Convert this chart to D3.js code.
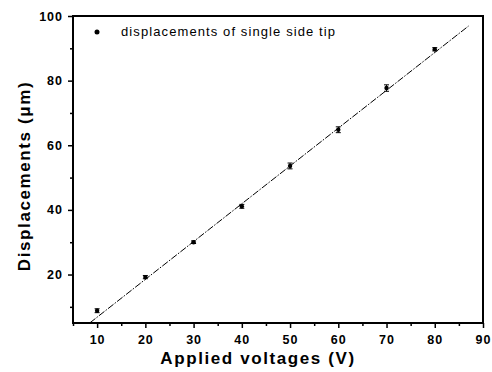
<!DOCTYPE html>
<html>
<meta charset="utf-8">
<head>
  <title>Displacements vs applied voltages</title>
</head>

<style>
body {
  margin: 0;
  background: #fff;
}
text {
  font-family: Arial, "Liberation Sans", Helvetica, sans-serif;
  fill: #000;
}
.tick text {
  font-size: 12.5px;
  font-weight: bold;
  letter-spacing: 1px;
}
.axis-title {
  font-size: 17px;
  font-weight: bold;
  text-anchor: middle;
  letter-spacing: 1.6px;
}
</style>

<body>
  <svg width="492" height="372"></svg>

  <script src="https://cdnjs.cloudflare.com/ajax/libs/d3/7.8.5/d3.min.js"></script>

  <script>
var width = 492, height = 372
var margin = {left: 73, right: 9, top: 16, bottom: 49}

// data
var voltages = [10, 20, 30, 40, 50, 60, 70, 80]
var displacements = [8.8, 19.2, 30, 41.1, 53.6, 64.8, 77.7, 89.7]
var errors = [0.6, 0.5, 0.4, 0.6, 0.9, 0.9, 1.0, 0.5]
// linear fit
var fitSlope = 1.17, fitIntercept = -4.9
var fitRange = [8.5, 87]
var xTicks = [10, 20, 30, 40, 50, 60, 70, 80, 90]
var yTicks = [20, 40, 60, 80, 100]
var legendLabel = 'displacements of single side tip'

var svg = d3.select('svg')

var x = d3.scaleLinear().domain([5, 90]).range([margin.left, width - margin.right])
var y = d3.scaleLinear().domain([5, 100]).range([height - margin.bottom, margin.top])

svg.append('clipPath').attr('id', 'plot')
  .append('rect')
  .attr('x', x(5)).attr('y', y(100))
  .attr('width', x(90) - x(5)).attr('height', y(5) - y(100))

//minor ticks
var xMinor = d3.range(5, 90, 10)
var yMinor = d3.range(10, 100, 20)

svg.append('g')
  .attr('transform', 'translate(0,' + y(5) + ')')
  .call(d3.axisBottom(x).tickValues(xMinor).tickSize(3).tickFormat(''))
svg.append('g')
  .attr('transform', 'translate(' + x(5) + ',0)')
  .call(d3.axisLeft(y).tickValues(yMinor).tickSize(3).tickFormat(''))

svg.append('g')
  .attr('transform', 'translate(0,' + y(5) + ')')
  .call(d3.axisBottom(x).tickValues(xTicks).tickSize(5).tickPadding(7))
svg.append('g')
  .attr('transform', 'translate(' + x(5) + ',0)')
  .call(d3.axisLeft(y).tickValues(yTicks).tickSize(5).tickPadding(5))

svg.selectAll('.domain').remove()
svg.selectAll('.tick line').attr('stroke', '#000').attr('stroke-width', 1.5)

// frame
svg.append('rect')
  .attr('x', x(5)).attr('y', y(100))
  .attr('width', x(90) - x(5)).attr('height', y(5) - y(100))
  .attr('fill', 'none')
  .attr('stroke', '#000')
  .attr('stroke-width', 2)

// fit line
svg.append('line')
  .attr('clip-path', 'url(#plot)')
  .attr('x1', x(fitRange[0]))
  .attr('y1', y(fitSlope * fitRange[0] + fitIntercept))
  .attr('x2', x(fitRange[1]))
  .attr('y2', y(fitSlope * fitRange[1] + fitIntercept))
  .attr('stroke', '#000')
  .attr('stroke-width', 1)
  .attr('stroke-dasharray', '7,1.5,1.5,1.5')

// error bars
var pts = voltages.map(function(v, i) {
  return {x: v, y: displacements[i], e: errors[i]}
})
var eb = svg.append('g').selectAll('g')
  .data(pts)
  .enter()
  .append('g')
  .attr('stroke', '#000')
  .attr('stroke-width', 1)
eb.append('line')
  .attr('x1', function(d) { return x(d.x) })
  .attr('x2', function(d) { return x(d.x) })
  .attr('y1', function(d) { return y(d.y - d.e) })
  .attr('y2', function(d) { return y(d.y + d.e) })
eb.append('line')
  .attr('x1', function(d) { return x(d.x) - 2.5 })
  .attr('x2', function(d) { return x(d.x) + 2.5 })
  .attr('y1', function(d) { return y(d.y - d.e) })
  .attr('y2', function(d) { return y(d.y - d.e) })
eb.append('line')
  .attr('x1', function(d) { return x(d.x) - 2.5 })
  .attr('x2', function(d) { return x(d.x) + 2.5 })
  .attr('y1', function(d) { return y(d.y + d.e) })
  .attr('y2', function(d) { return y(d.y + d.e) })

svg.append('g').selectAll('circle')
  .data(pts)
  .enter()
  .append('circle')
  .attr('cx', function(d) { return x(d.x) })
  .attr('cy', function(d) { return y(d.y) })
  .attr('r', 2.2)
  .attr('fill', '#000')

// legend
svg.append('circle')
  .attr('cx', 97).attr('cy', 32).attr('r', 2.5).attr('fill', '#000')
svg.append('text')
  .attr('x', 121).attr('y', 36)
  .style('font-size', '13px')
  .style('letter-spacing', '1.1px')
  .text(legendLabel)

// axis titles
svg.append('text')
  .attr('class', 'axis-title')
  .attr('x', 258)
  .attr('y', 364)
  .text('Applied voltages (V)')
svg.append('text')
  .attr('class', 'axis-title')
  .attr('transform', 'translate(30,176) rotate(-90)')
  .text('Displacements (μm)')
  </script>
</body>
</html>
